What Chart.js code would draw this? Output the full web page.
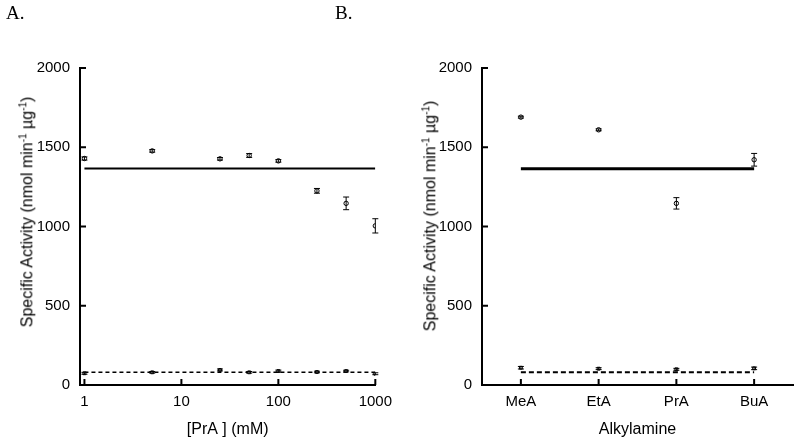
<!DOCTYPE html>
<html>
<head>
<meta charset="utf-8">
<script src="https://cdn.jsdelivr.net/npm/chart.js@4.4.1/dist/chart.umd.min.js"></script>
<style>
  body { margin: 0; background: #fff; }
  #wrap { position: relative; width: 800px; height: 447px; overflow: hidden; font-family: 'Liberation Sans', Arial, sans-serif; }
  .panel { position: absolute; top: 0; width: 400px; height: 447px; }
  .tag { position: absolute; top: 2px; font-family: 'Liberation Serif', 'Times New Roman', serif; font-size: 19px; color: #000; }
  .ytitle { position: absolute; white-space: nowrap; font-size: 16px; color: #000; transform: translate(-50%, -50%) rotate(-90deg); }
  .ytitle sup { font-size: 10px; }
</style>
</head>
<body>
<div id="wrap">
  <div class="panel" style="left:0"><canvas id="chartA" width="400" height="447"></canvas></div>
  <div class="panel" style="left:400px"><canvas id="chartB" width="400" height="447"></canvas></div>
  <div class="tag" style="left:6px">A.</div>
  <div class="tag" style="left:335px">B.</div>
  <div class="ytitle" style="left:27px; top:212px">Specific Activity (nmol min<sup>-1</sup> µg<sup>-1</sup>)</div>
  <div class="ytitle" style="left:430px; top:216px">Specific Activity (nmol min<sup>-1</sup> µg<sup>-1</sup>)</div>
</div>
<script>
// panel A: activity vs propylamine concentration
const concPrA = [1, 5, 25, 50, 100, 250, 500, 1000];
const highA = [1429, 1477, 1427, 1448, 1414, 1225, 1146, 1004];
const highErrA = [10, 8, 8, 12, 8, 15, 40, 45];
const lowA = [74, 80, 95, 80, 88, 82, 88, 71];
const lowErrA = [6, 5, 6, 5, 6, 5, 5, 6];
const meanHighA = 1366;
const meanLowA = 80;
const ticksA = [1, 10, 100, 1000];

// panel B: activity per alkylamine
const amines = ['MeA', 'EtA', 'PrA', 'BuA'];
const highB = [1690, 1610, 1146, 1421];
const highErrB = [6, 6, 36, 40];
const lowB = [109, 103, 99, 105];
const lowErrB = [8, 6, 6, 8];
const meanHighB = 1365;
const meanLowB = 80;

const yTicks = [0, 500, 1000, 1500, 2000];

// error bars + inward tick marks, drawn from the chart scales
const extrasPlugin = {
  id: 'extras',
  afterDatasetsDraw(chart) {
    const ctx = chart.ctx;
    const yScale = chart.scales.y;
    ctx.save();
    ctx.strokeStyle = '#000';
    ctx.lineWidth = 1;
    chart.data.datasets.forEach((ds, i) => {
      if (!ds.errors) return;
      const meta = chart.getDatasetMeta(i);
      meta.data.forEach((pt, j) => {
        const v = ds.data[j].y !== undefined ? ds.data[j].y : ds.data[j];
        const e = ds.errors[j];
        const yt = yScale.getPixelForValue(v + e);
        const yb = yScale.getPixelForValue(v - e);
        ctx.beginPath();
        ctx.moveTo(pt.x, yt); ctx.lineTo(pt.x, yb);
        ctx.moveTo(pt.x - 3, yt); ctx.lineTo(pt.x + 3, yt);
        ctx.moveTo(pt.x - 3, yb); ctx.lineTo(pt.x + 3, yb);
        ctx.stroke();
      });
    });
    ctx.restore();
  },
  afterDraw(chart) {
    const ctx = chart.ctx;
    const xs = chart.scales.x, ys = chart.scales.y;
    const area = chart.chartArea;
    ctx.save();
    ctx.strokeStyle = '#000';
    ctx.lineWidth = 2;
    ctx.beginPath();
    xs.ticks.forEach((t, i) => {
      const px = xs.getPixelForTick(i);
      ctx.moveTo(px, area.bottom); ctx.lineTo(px, area.bottom - 6);
    });
    ys.ticks.forEach((t, i) => {
      const py = ys.getPixelForTick(i);
      ctx.moveTo(area.left, py); ctx.lineTo(area.left + 6, py);
    });
    ctx.stroke();
    ctx.restore();
  }
};

const tickFont = { family: "'Liberation Sans', Arial, sans-serif", size: 15 };

function yAxis(width) {
  return {
    min: 0, max: 2000,
    afterBuildTicks: s => { s.ticks = yTicks.map(v => ({ value: v })); },
    afterFit: s => { s.width = width; },
    grid: { display: false, drawTicks: false },
    border: { display: true, color: '#000', width: 2 },
    ticks: { color: '#000', font: tickFont, padding: 10, callback: v => String(v) }
  };
}

const xTitle = text => ({
  display: true, text: text, color: '#000',
  font: { family: "'Liberation Sans', Arial, sans-serif", size: 16 },
  padding: { top: 0, bottom: 8 }
});

new Chart(document.getElementById('chartA'), {
  type: 'scatter',
  data: {
    datasets: [
      {
        data: concPrA.map((c, i) => ({ x: c, y: highA[i] })),
        errors: highErrA,
        pointStyle: 'circle', pointRadius: 2.2, borderColor: '#000', borderWidth: 1,
        backgroundColor: '#fff'
      },
      {
        data: concPrA.map((c, i) => ({ x: c, y: lowA[i] })),
        errors: lowErrA,
        pointStyle: 'rect', pointRadius: 2, borderColor: '#000', borderWidth: 1,
        backgroundColor: '#fff'
      },
      {
        type: 'line',
        data: [{ x: concPrA[0], y: meanHighA }, { x: concPrA[concPrA.length - 1], y: meanHighA }],
        borderColor: '#000', borderWidth: 2, pointRadius: 0
      },
      {
        type: 'line',
        data: [{ x: concPrA[0], y: meanLowA }, { x: concPrA[concPrA.length - 1], y: meanLowA }],
        borderColor: '#000', borderWidth: 1.5, borderDash: [4, 3], pointRadius: 0
      }
    ]
  },
  options: {
    responsive: false,
    animation: false,
    layout: { padding: { top: 68, right: 19, left: 0, bottom: 0 } },
    plugins: { legend: { display: false }, tooltip: { enabled: false } },
    scales: {
      x: {
        type: 'logarithmic', min: 0.9, max: 1000,
        afterBuildTicks: s => { s.ticks = ticksA.map(v => ({ value: v })); },
        afterFit: s => { s.height = 62; },
        grid: { display: false, drawTicks: false },
        border: { display: true, color: '#000', width: 2 },
        ticks: { color: '#000', font: tickFont, padding: 8, maxRotation: 0, callback: v => String(v) },
        title: xTitle('[PrA ] (mM)')
      },
      y: yAxis(80)
    }
  },
  plugins: [extrasPlugin]
});

new Chart(document.getElementById('chartB'), {
  type: 'line',
  data: {
    labels: amines,
    datasets: [
      {
        data: highB, errors: highErrB, showLine: false,
        pointStyle: 'circle', pointRadius: 2.2, borderColor: '#000', borderWidth: 1,
        backgroundColor: '#fff'
      },
      {
        data: lowB, errors: lowErrB, showLine: false,
        pointStyle: 'rect', pointRadius: 2, borderColor: '#000', borderWidth: 1,
        backgroundColor: '#fff'
      },
      {
        data: amines.map(() => meanHighB),
        borderColor: '#000', borderWidth: 3, pointRadius: 0
      },
      {
        data: amines.map(() => meanLowB),
        borderColor: '#000', borderWidth: 2, borderDash: [5, 3], pointRadius: 0
      }
    ]
  },
  options: {
    responsive: false,
    animation: false,
    layout: { padding: { top: 68, right: 7, left: 0, bottom: 0 } },
    plugins: { legend: { display: false }, tooltip: { enabled: false } },
    scales: {
      x: {
        type: 'category', offset: true,
        afterFit: s => { s.height = 62; },
        grid: { display: false, drawTicks: false, offset: true },
        border: { display: true, color: '#000', width: 2 },
        ticks: { color: '#000', font: tickFont, padding: 8, maxRotation: 0 },
        title: xTitle('Alkylamine')
      },
      y: yAxis(82)
    }
  },
  plugins: [extrasPlugin]
});
</script>
</body>
</html>
